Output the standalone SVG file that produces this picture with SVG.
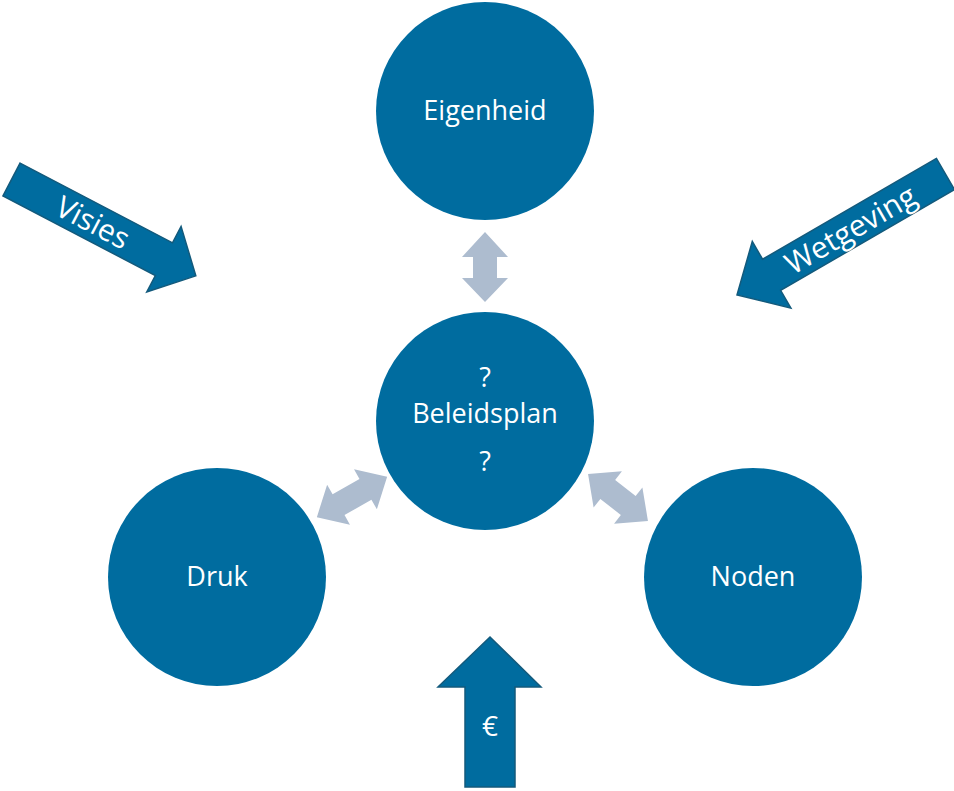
<svg xmlns="http://www.w3.org/2000/svg" width="954" height="791" viewBox="0 0 954 791">
<style>
.node{fill:#006C9F;}
.lbl{fill:#FFFFFF;font-family:"Open Sans","Noto Sans",sans-serif;font-size:27px;text-anchor:middle;}
.big{fill:#006C9F;stroke:#135A7C;stroke-width:1.5;stroke-linejoin:miter;}
.dbl{fill:#ADBCCF;}
.alb{fill:#FFFFFF;font-family:"Open Sans","Noto Sans",sans-serif;font-size:30px;text-anchor:middle;}
</style>
<rect width="954" height="791" fill="#FFFFFF"/>
<g id="connectors">
  <polygon class="dbl" points="473,257 462,257 485,232 508,257 497,257 497,278 508,278 485,302 462,278 473,278"/>
  <g transform="translate(352,497) rotate(-29.8)">
    <polygon class="dbl" points="-15.5,-12 -15.5,-23 -40.5,0 -15.5,23 -15.5,12 15.5,12 15.5,23 40.5,0 15.5,-23 15.5,-12"/>
  </g>
  <g transform="translate(618,497.5) rotate(38)">
    <polygon class="dbl" points="-13,-12 -13,-23 -38,0 -13,23 -13,12 13,12 13,23 38,0 13,-23 13,-12"/>
  </g>
</g>
<g id="visies">
  <g transform="translate(11.5,179.5) rotate(27.6)">
    <polygon class="big" points="0,-18.5 172,-18.5 172,-37 208,0 172,37 172,18.5 0,18.5"/>
    <text class="alb" x="92" y="11">Visies</text>
  </g>
</g>
<g id="wetgeving">
  <g transform="translate(945.5,174) rotate(-30.1)">
    <polygon class="big" points="0,-18 -201,-18 -201,-38.5 -241,0 -201,38.5 -201,18 0,18"/>
    <text class="alb" x="-110" y="11">Wetgeving</text>
  </g>
</g>
<g id="euro">
  <polygon class="big" points="465,787 465,687 438,687 490,637 541,687 515,687 515,787"/>
  <text class="lbl" x="490" y="736" style="font-size:28px">€</text>
</g>
<g id="eigenheid">
  <circle class="node" cx="485" cy="111" r="109"/>
  <text class="lbl" x="485" y="120">Eigenheid</text>
</g>
<g id="beleidsplan">
  <circle class="node" cx="485" cy="421" r="109"/>
  <text class="lbl" x="485" y="387">?</text>
  <text class="lbl" x="485" y="423">Beleidsplan</text>
  <text class="lbl" x="485" y="471">?</text>
</g>
<g id="druk">
  <circle class="node" cx="217" cy="577" r="109"/>
  <text class="lbl" x="217" y="586">Druk</text>
</g>
<g id="noden">
  <circle class="node" cx="753" cy="577" r="109"/>
  <text class="lbl" x="753" y="586">Noden</text>
</g>
</svg>
